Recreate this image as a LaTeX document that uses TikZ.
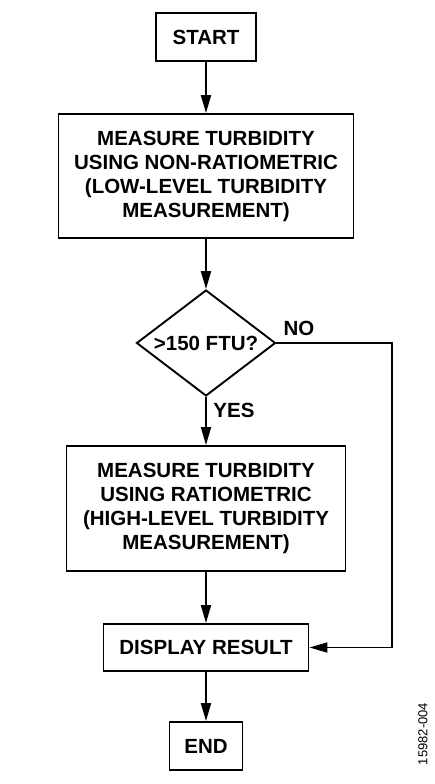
\documentclass[tikz,border=0pt]{standalone}
\usepackage{fontspec}
\setmainfont{Liberation Sans}
\usetikzlibrary{shapes.geometric,arrows.meta}

\begin{document}
\begin{tikzpicture}[x=1pt,y=-1pt,
  box/.style={rectangle,draw=black,line width=1.9pt,fill=white,align=center,inner sep=2pt,
    font=\fontsize{20.5}{24}\selectfont\bfseries},
  dec/.style={diamond,draw=black,line width=1.9pt,fill=white,inner sep=0pt,aspect=1.3,
    minimum width=139pt,minimum height=106pt,font=\fontsize{20.5}{24}\selectfont\bfseries},
  lbl/.style={font=\fontsize{20.5}{24}\selectfont\bfseries,inner sep=0pt},
  arr/.style={line width=1.9pt,-{Triangle[length=18pt,width=10pt]}},]
  \useasboundingbox (0,0) rectangle (435,784);

  \node[box,minimum width=100pt,minimum height=48pt] (S) at (206,37) {START};
  \node[box,minimum width=295pt,minimum height=124pt] (L) at (206,176)
    {MEASURE TURBIDITY\\USING NON-RATIOMETRIC\\(LOW-LEVEL TURBIDITY\\MEASUREMENT)};
  \node[dec] (Q) at (206,343) {>150 FTU?};
  \node[box,minimum width=279pt,minimum height=125pt] (H) at (206,508.5)
    {MEASURE TURBIDITY\\USING RATIOMETRIC\\(HIGH-LEVEL TURBIDITY\\MEASUREMENT)};
  \node[box,minimum width=205pt,minimum height=47pt] (R) at (206,647.5) {DISPLAY RESULT};
  \node[box,minimum width=73pt,minimum height=48pt] (E) at (206,746) {END};

  \node[lbl] (no) at (299,328) {NO};
  \node[lbl] (yes) at (234,410) {YES};
  \node[font=\fontsize{13}{15}\selectfont,rotate=90,inner sep=0pt] (id) at (423,734) {15982-004};

  \coordinate (k) at (392,343);

  \draw[arr] (S) -- (L);
  \draw[arr] (L) -- (Q);
  \draw[arr] (Q) -- (H);
  \draw[arr] (H) -- (R);
  \draw[arr] (R) -- (E);
  \draw[arr] (Q.east) -- (k) |- (R.east);
\end{tikzpicture}
\end{document}
